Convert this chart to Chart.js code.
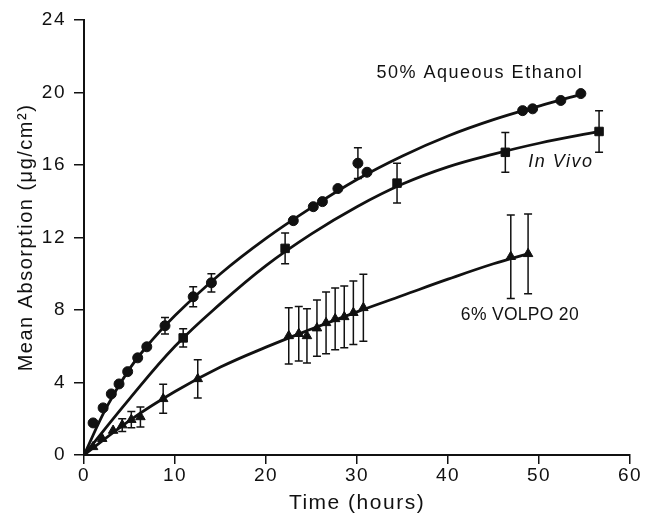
<!DOCTYPE html>
<html>
<head>
<meta charset="utf-8">
<script src="https://cdn.jsdelivr.net/npm/chart.js@4.4.0/dist/chart.umd.min.js"></script>
<style>
  html, body { margin: 0; padding: 0; background: #fff; }
  #wrap { width: 647px; height: 517px; }
</style>
</head>
<body>
<div id="wrap"><canvas id="chart" width="647" height="517"></canvas></div>
<script>
const ethanolX = [1.0, 2.1, 3.0, 3.85, 4.8, 5.9, 6.9, 8.9, 12.0, 14.0, 23.0, 25.2, 26.2, 27.9, 30.1, 31.1, 48.2, 49.3, 52.4, 54.6];
const ethanolY = [1.77, 2.6, 3.37, 3.92, 4.6, 5.36, 5.97, 7.13, 8.73, 9.5, 12.93, 13.7, 13.98, 14.7, 16.1, 15.6, 19.0, 19.1, 19.56, 19.94];
const ethanolErr = [0, 0, 0, 0, 0, 0, 0, 0.45, 0.55, 0.5, 0, 0, 0, 0, 0.85, 0, 0, 0, 0, 0];

const vivoX = [10.9, 22.1, 34.4, 46.3, 56.6];
const vivoY = [6.46, 11.4, 15.0, 16.7, 17.85];
const vivoErr = [0.5, 0.85, 1.1, 1.1, 1.15];

const volpoX = [1.0, 2.0, 3.2, 4.2, 5.2, 6.2, 8.7, 12.5, 22.5, 23.6, 24.5, 25.6, 26.6, 27.6, 28.6, 29.6, 30.7, 46.9, 48.8];
const volpoY = [0.45, 0.9, 1.35, 1.65, 1.95, 2.1, 3.1, 4.2, 6.57, 6.69, 6.57, 7.0, 7.29, 7.51, 7.62, 7.85, 8.12, 10.94, 11.1];
const volpoErr = [0, 0, 0, 0.35, 0.45, 0.55, 0.8, 1.05, 1.55, 1.5, 1.5, 1.55, 1.7, 1.7, 1.7, 1.75, 1.85, 2.3, 2.2];

// fitted curves
const ethanolFitX = [0, 2.5, 5, 7.5, 10, 15, 20, 25, 30, 35, 40, 45, 50, 54.6];
const ethanolFitY = [0, 2.65, 4.75, 6.35, 7.7, 10.0, 11.95, 13.65, 15.2, 16.5, 17.6, 18.5, 19.25, 19.9];
const vivoFitX = [0, 5, 10, 15, 20, 25, 30, 35, 40, 45, 50, 56.6];
const vivoFitY = [0, 3.1, 6.0, 8.35, 10.45, 12.2, 13.7, 14.95, 15.9, 16.6, 17.2, 17.85];
const volpoFitX = [0, 5, 10, 15, 20, 25, 30, 35, 40, 45, 48.8];
const volpoFitY = [0, 1.9, 3.5, 4.85, 5.95, 6.95, 7.9, 8.8, 9.7, 10.55, 11.1];

const xTicks = [0, 10, 20, 30, 40, 50, 60];
const yTicks = [0, 4, 8, 12, 16, 20, 24];

// curve labels: [text, x, y, font, tracking]
const curveLabels = [
  ["50% Aqueous Ethanol", 43.5, 21.1, "18px", "1.5px"],
  ["In Vivo", 52.4, 16.15, "italic 18px", "1.5px"],
  ["6% VOLPO 20", 47.9, 7.73, "17.5px", "0.3px"],
];

const FONT = "'Liberation Sans', Arial, sans-serif";
const INK = "#111";

const pts = (xs, ys) => xs.map((x, i) => ({ x, y: ys[i] }));

function fitSet(xs, ys) {
  return {
    data: pts(xs, ys),
    showLine: true,
    borderColor: INK,
    borderWidth: 2.8,
    pointRadius: 0,
    tension: 0.4,
    fill: false,
  };
}

function markSet(xs, ys, errs, style, radius) {
  return {
    data: pts(xs, ys),
    errs,
    showLine: false,
    pointStyle: style,
    pointRadius: radius,
    pointBackgroundColor: INK,
    pointBorderColor: INK,
    pointBorderWidth: 1,
  };
}

// the original typesetting is a little loose
const tracking = {
  id: "tracking",
  beforeLayout(chart) { chart.ctx.letterSpacing = "1.5px"; },
  beforeDraw(chart) { chart.ctx.letterSpacing = "1.5px"; },
};

const errorBars = {
  id: "errorBars",
  afterDatasetsDraw(chart) {
    const { ctx, scales: { x, y } } = chart;
    ctx.save();
    ctx.strokeStyle = INK;
    ctx.lineWidth = 1.5;
    chart.data.datasets.forEach((ds) => {
      if (!ds.errs) return;
      ds.data.forEach((p, i) => {
        const e = ds.errs[i];
        if (!e) return;
        const px = x.getPixelForValue(p.x);
        const top = y.getPixelForValue(p.y + e);
        const bot = y.getPixelForValue(p.y - e);
        ctx.beginPath();
        ctx.moveTo(px, top);
        ctx.lineTo(px, bot);
        ctx.moveTo(px - 4, top);
        ctx.lineTo(px + 4, top);
        ctx.moveTo(px - 4, bot);
        ctx.lineTo(px + 4, bot);
        ctx.stroke();
      });
    });
    ctx.restore();
  },
};

const textLabels = {
  id: "textLabels",
  afterDraw(chart) {
    const { ctx, scales: { x, y } } = chart;
    ctx.save();
    ctx.fillStyle = INK;
    ctx.textAlign = "center";
    ctx.textBaseline = "middle";
    curveLabels.forEach(([t, vx, vy, f, sp]) => {
      ctx.font = f + " " + FONT;
      ctx.letterSpacing = sp;
      ctx.fillText(t, x.getPixelForValue(vx), y.getPixelForValue(vy));
    });
    ctx.restore();
  },
};

new Chart(document.getElementById("chart"), {
  type: "scatter",
  data: {
    datasets: [
      fitSet(ethanolFitX, ethanolFitY),
      fitSet(vivoFitX, vivoFitY),
      fitSet(volpoFitX, volpoFitY),
      markSet(ethanolX, ethanolY, ethanolErr, "circle", 5),
      markSet(vivoX, vivoY, vivoErr, "rect", 6),
      markSet(volpoX, volpoY, volpoErr, "triangle", 5.5),
    ],
  },
  options: {
    responsive: false,
    animation: false,
    events: [],
    layout: { padding: { top: 20, right: 17, left: 0, bottom: 0 } },
    plugins: { legend: { display: false }, tooltip: { enabled: false } },
    scales: {
      x: {
        type: "linear",
        min: 0,
        max: 60,
        afterBuildTicks: (s) => { s.ticks = xTicks.map((v) => ({ value: v })); },
        afterFit: (s) => { s.height = 62; },
        grid: { drawOnChartArea: false, drawTicks: true, tickLength: 9, color: INK, lineWidth: 1.5 },
        border: { color: INK, width: 2 },
        ticks: { color: INK, font: { family: FONT, size: 19 }, padding: 0, maxRotation: 0 },
        title: { display: true, text: "Time (hours)", color: INK, font: { family: FONT, size: 21 }, padding: { top: 0, bottom: 1 } },
      },
      y: {
        type: "linear",
        min: 0,
        max: 24,
        afterBuildTicks: (s) => { s.ticks = yTicks.map((v) => ({ value: v })); },
        afterFit: (s) => { s.width = 84; },
        grid: { drawOnChartArea: false, drawTicks: true, tickLength: 10, color: INK, lineWidth: 1.5 },
        border: { color: INK, width: 2 },
        ticks: { color: INK, font: { family: FONT, size: 19 }, padding: 8 },
        title: { display: true, text: "Mean Absorption (μg/cm²)", color: INK, font: { family: FONT, size: 20 }, padding: { top: 14, bottom: 0 } },
      },
    },
  },
  plugins: [tracking, errorBars, textLabels],
});
</script>
</body>
</html>
